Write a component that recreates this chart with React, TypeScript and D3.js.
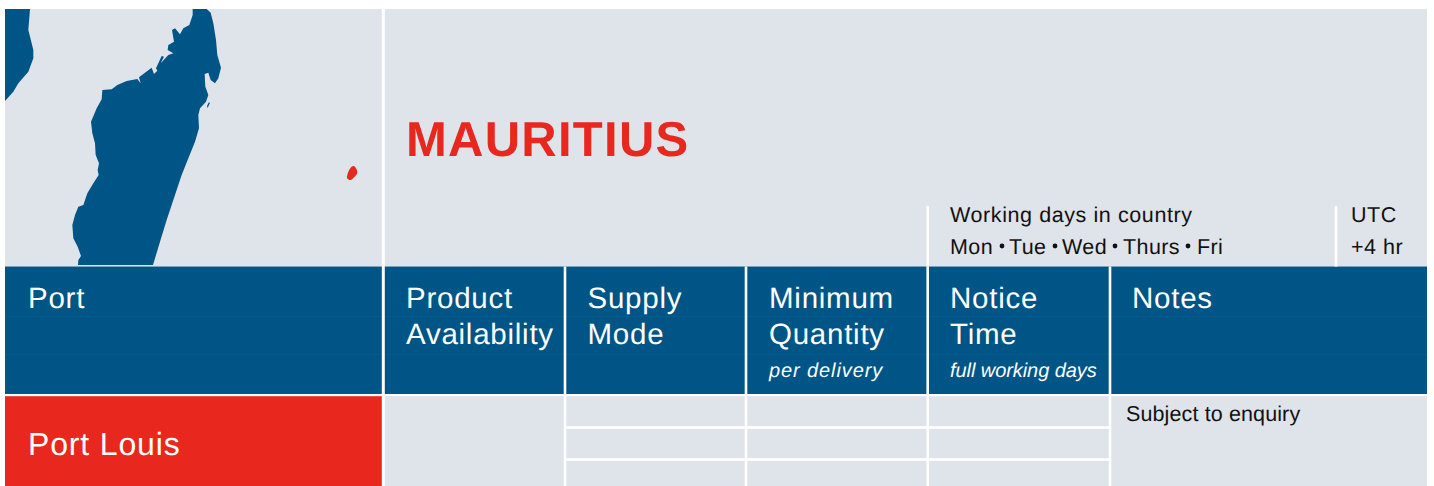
import React from "react";
import * as d3 from "d3";

const W = 1434, H = 486;
const BLUE = "#005587", GREY = "#dfe3ea", RED = "#e8281e";

// outlines, in 3x-zoom picture units
const madagascar: [number, number][] = [[578,27],[620,27],[632,38],[640,70],[648,120],[652,165],[663,203],[655,235],[645,250],[632,240],[625,218],[614,222],[616,260],[625,285],[618,305],[600,325],[595,345],[597,385],[585,425],[565,475],[545,525],[525,585],[500,660],[480,725],[459,795],[234,795],[235,780],[243,768],[233,740],[220,715],[217,675],[225,645],[235,620],[250,615],[262,580],[280,550],[296,525],[293,510],[297,490],[287,465],[285,430],[277,400],[273,365],[290,325],[305,298],[307,270],[335,268],[352,255],[380,243],[412,237],[422,250],[417,232],[455,203],[462,222],[472,212],[468,205],[485,168],[492,170],[482,190],[505,165],[520,160],[503,150],[505,135],[522,125],[516,90],[525,85],[540,103],[550,85],[568,75],[578,45]];
const africa: [number, number][] = [[15,27],[90,27],[85,90],[95,130],[100,150],[100,175],[85,215],[55,250],[40,275],[15,303]];
const mauritius: [number, number][] = [[1060,498],[1067,503],[1072,518],[1062,532],[1052,540],[1041,534],[1045,515],[1052,503]];
const islet: [number, number][] = [[627,306],[629,310],[623,324],[621,318]];

const colEdges = [5, 383.3, 565, 746, 927.7, 1110, 1427];
const headerTitles = [["Port"], ["Product", "Availability"], ["Supply", "Mode"], ["Minimum", "Quantity"], ["Notice", "Time"], ["Notes"]];
const headerSubs = ["", "", "", "per delivery", "full working days", ""];
const rowEdges = [396, 427.5, 459.5, 486];
const country = "MAURITIUS";
const port = "Port Louis";
const note = "Subject to enquiry";
const workingTitle = "Working days in country";
const workingDays = ["Mon", "Tue", "Wed", "Thurs", "Fri"];
const dayX = [950, 1009, 1062, 1123, 1197];
const dotX = [1002, 1055, 1115, 1188];
const utc = ["UTC", "+4 hr"];
const colTextX = [28, 406, 587.5, 769, 950, 1132];
const subSpacing = [0, 0, 0, 0.9, -0.07, 0];

const map = d3.scaleLinear().domain([0, 1200]).range([0, 400]);
const line = d3.line<[number, number]>().x((d) => map(d[0])).y((d) => map(d[1])).curve(d3.curveLinearClosed);
const smooth = d3.line<[number, number]>().x((d) => map(d[0])).y((d) => map(d[1])).curve(d3.curveCardinalClosed);
const FONT = "'Liberation Sans', Arial, sans-serif";

export default function App() {
  return (
    <svg width={W} height={H} style={{ position: "absolute", left: 0, top: 0, display: "block" }} fontFamily={FONT} textRendering="geometricPrecision">
      <rect width={W} height={H} fill="#fff" />
      <rect x={5} y={9} width={1422} height={477} fill={GREY} />
      <path d={line(africa)!} fill={BLUE} />
      <path d={line(madagascar)!} fill={BLUE} />
      <path d={line(islet)!} fill={BLUE} />
      <path d={smooth(mauritius)!} fill={RED} />

      {/* header band */}
      <rect x={5} y={266.5} width={1422} height={127.5} fill={BLUE} />
      <rect x={5} y={266} width={1422} height={1} fill="#7fa6c0" opacity={0.6} />
      <rect x={5} y={316} width={1422} height={1} fill="#fff" opacity={0.025} />
      <rect x={5} y={354} width={1422} height={1} fill="#fff" opacity={0.025} />
      <rect x={5} y={396} width={378} height={90} fill={RED} />
      {/* separators */}
      <rect x={5} y={394} width={1422} height={2.2} fill="#fff" />
      <rect x={381.8} y={9} width={3} height={477} fill="#fff" />
      {colEdges.slice(2, 5).map((x) => (
        <rect key={x} x={x - 1.3} y={266.5} width={2.6} height={219.5} fill="#fff" />
      ))}
      <rect x={1108.7} y={266.5} width={2.6} height={219.5} fill="#fff" />
      <rect x={926.4} y={206} width={2.6} height={60.5} fill="#fff" />
      <rect x={1334.7} y={206} width={2.6} height={60.5} fill="#fff" />
      {rowEdges.slice(1, 3).map((y) => (
        <rect key={y} x={565} y={y - 1.3} width={546} height={2.6} fill="#fff" />
      ))}

      <text x={406} y={155.5} fontSize={49} fontWeight={700} fill={RED} letterSpacing={1.25}>{country}</text>

      <text x={950} y={222} fontSize={21.5} fill="#111" letterSpacing={0.59}>{workingTitle}</text>
      {workingDays.map((d, i) => (
        <text key={d} x={dayX[i]} y={254} fontSize={21.5} fill="#111" letterSpacing={0.4}>{d}</text>
      ))}
      {dotX.map((x) => <circle key={x} cx={x} cy={246} r={2.4} fill="#111" />)}
      <text x={1351} y={222} fontSize={21.5} fill="#111" letterSpacing={0.5}>{utc[0]}</text>
      <text x={1351} y={254} fontSize={21.5} fill="#111" letterSpacing={0.5}>{utc[1]}</text>

      {headerTitles.map((lines, i) =>
        lines.map((t, j) => (
          <text key={t} x={colTextX[i]} y={308 + j * 36} fontSize={29.5} fill="#fff" letterSpacing={0.75}>{t}</text>
        ))
      )}
      {headerSubs.map((t, i) =>
        t ? <text key={t} x={colTextX[i]} y={377} fontSize={20} fontStyle="italic" fill="#fff" letterSpacing={subSpacing[i]}>{t}</text> : null
      )}

      <text x={28} y={455} fontSize={32} fill="#fff" letterSpacing={0.85}>{port}</text>
      <text x={1126} y={421} fontSize={21.5} fill="#111" letterSpacing={0.12}>{note}</text>
    </svg>
  );
}
